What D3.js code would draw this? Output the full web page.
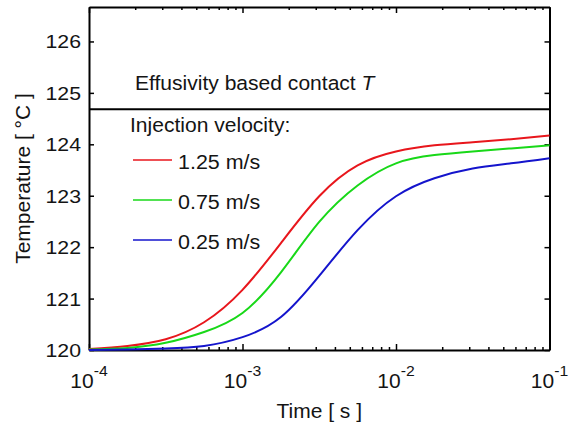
<!DOCTYPE html>
<html>
<head>
<meta charset="utf-8">
<script src="https://cdn.jsdelivr.net/npm/d3@7"></script>
<style>
  body { margin: 0; background: #fff; }
  text { font-family: "Liberation Sans", Arial, sans-serif; fill: #141414; }
</style>
</head>
<body>
<svg id="chart" width="569" height="428"></svg>
<script>
// data
const times = [1e-4, 1.78e-4, 3.16e-4, 5.62e-4, 1e-3, 1.78e-3, 3.16e-3, 5.62e-3, 1e-2, 1.78e-2, 3.16e-2, 5.62e-2, 1e-1];
const temp125 = [120.02, 120.08, 120.21, 120.54, 121.17, 122.08, 122.99, 123.59, 123.86, 123.98, 124.04, 124.10, 124.17];
const temp075 = [120.01, 120.04, 120.14, 120.35, 120.72, 121.51, 122.49, 123.20, 123.63, 123.79, 123.86, 123.92, 123.98];
const temp025 = [120.00, 120.01, 120.03, 120.08, 120.25, 120.64, 121.44, 122.33, 122.99, 123.34, 123.53, 123.63, 123.73];
const seriesNames = ["1.25 m/s", "0.75 m/s", "0.25 m/s"];
const seriesColors = ["#e8161c", "#18d818", "#1414cc"];
const yTicks = [120, 121, 122, 123, 124, 125, 126];
const xMajor = [1e-4, 1e-3, 1e-2, 1e-1];
const xExponents = ["-4", "-3", "-2", "-1"];
const contactT = 124.68;

const svg = d3.select("#chart");
const plotLeft = 89, plotRight = 549.5, plotTop = 7, plotBottom = 350;

const xScale = d3.scaleLog().domain([1e-4, 1e-1]).range([plotLeft, plotRight]);
const yScale = d3.scaleLinear().domain([120, 126.67]).range([plotBottom, plotTop]);

// helper: text squeezed/stretched horizontally like the reference
function label(g, x, y, str, size, sx, anchor) {
  return g.append("text")
    .attr("transform", `translate(${x},${y}) scale(${sx},1)`)
    .attr("text-anchor", anchor || "start")
    .style("font-size", size + "px")
    .text(str);
}

// AXES
const isMajor = (d) => xMajor.some((m) => Math.abs(d - m) / m < 1e-6);

const xBottom = svg.append("g")
  .attr("transform", `translate(0,${plotBottom})`)
  .call(d3.axisBottom(xScale).tickValues(xScale.ticks()).tickSizeOuter(0).tickFormat(""));
const xTop = svg.append("g")
  .attr("transform", `translate(0,${plotTop})`)
  .call(d3.axisTop(xScale).tickValues(xScale.ticks()).tickSizeOuter(0).tickFormat(""));
xBottom.selectAll(".tick line").attr("y2", (d) => (isMajor(d) ? -6 : -3));
xTop.selectAll(".tick line").attr("y2", (d) => (isMajor(d) ? 6 : 3));

const yLeft = svg.append("g")
  .attr("transform", `translate(${plotLeft},0)`)
  .call(d3.axisLeft(yScale).tickValues(yTicks).tickSize(-5).tickSizeOuter(0).tickFormat(""));
const yRight = svg.append("g")
  .attr("transform", `translate(${plotRight},0)`)
  .call(d3.axisRight(yScale).tickValues(yTicks).tickSize(-5).tickSizeOuter(0).tickFormat(""));

svg.selectAll(".domain").attr("stroke", "#000").attr("stroke-width", 2);
svg.selectAll(".tick line").attr("stroke", "#000").attr("stroke-width", 1.5);

// y tick labels
yTicks.forEach((t) => {
  label(svg, 81, yScale(t) + 7, String(t), 18.5, 1.15, "end");
});

// x tick labels, 10 with exponent
xMajor.forEach((t, i) => {
  const g = svg.append("g").attr("transform", `translate(${xScale(t)},388) scale(1.05,1)`);
  const txt = g.append("text").attr("text-anchor", "middle").style("font-size", "20px");
  txt.append("tspan").text("10");
  txt.append("tspan").attr("dy", -12).style("font-size", "15px").text(xExponents[i]);
});

// axis titles
label(svg, (plotLeft + plotRight) / 2, 418, "Time [ s ]", 21, 1.0, "middle");
svg.append("text")
  .attr("transform", `translate(30,${(plotTop + plotBottom) / 2}) rotate(-90)`)
  .attr("text-anchor", "middle")
  .style("font-size", "21px")
  .text("Temperature [ °C ]");

// contact temperature line
svg.append("line")
  .attr("x1", plotLeft).attr("x2", plotRight)
  .attr("y1", yScale(contactT)).attr("y2", yScale(contactT))
  .attr("stroke", "#000").attr("stroke-width", 2);

const eff = svg.append("text")
  .attr("transform", `translate(135,90) scale(1.08,1)`)
  .style("font-size", "19.5px");
eff.append("tspan").text("Effusivity based contact ");
eff.append("tspan").style("font-style", "italic").text("T");

// CURVES
const line = d3.line()
  .curve(d3.curveNatural)
  .x((d) => xScale(d[0]))
  .y((d) => yScale(d[1]));

[temp125, temp075, temp025].forEach((vals, i) => {
  svg.append("path")
    .datum(times.map((t, j) => [t, vals[j]]))
    .attr("d", line)
    .attr("fill", "none")
    .attr("stroke", seriesColors[i])
    .attr("stroke-width", 2);
});

// LEGEND
label(svg, 130, 132, "Injection velocity:", 19.5, 1.08, "start");
seriesNames.forEach((name, i) => {
  const ly = 160 + i * 40;
  svg.append("line")
    .attr("x1", 133).attr("x2", 172)
    .attr("y1", ly).attr("y2", ly)
    .attr("stroke", seriesColors[i]).attr("stroke-width", 1.5);
  label(svg, 178, ly + 9, name, 19.5, 1.1, "start");
});
</script>
</body>
</html>
